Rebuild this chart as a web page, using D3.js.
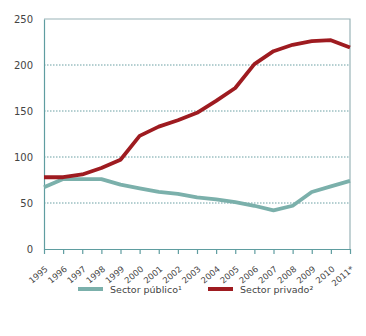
<!DOCTYPE html>
<html>
<head>
<meta charset="utf-8">
<script src="https://cdn.jsdelivr.net/npm/d3@7"></script>
<style>
  body { margin: 0; background: #fff; }
  svg { display: block; }
  svg text { font-family: "DejaVu Sans", Verdana, sans-serif; fill: #444; }
</style>
</head>
<body>
<div id="chart"></div>
<script>
// años (2011 provisional)
const years = ["1995", "1996", "1997", "1998", "1999", "2000", "2001", "2002", "2003",
  "2004", "2005", "2006", "2007", "2008", "2009", "2010", "2011*"];
const publico = [67, 76, 76, 76, 70, 66, 62, 60, 56, 54, 51, 47, 42, 47, 62, 68, 74];
const privado = [78, 78, 81, 88, 97, 123, 133, 140, 148, 161, 175, 201, 215, 222, 226, 227, 219];
const yTicks = [0, 50, 100, 150, 200, 250];
const seriesNames = ["Sector público¹", "Sector privado²"];

const colorPub = "#7bb0ab", colorPriv = "#9e1b20";

const width = 366, height = 336;
const margin = { top: 19, right: 16, bottom: 87, left: 44 };

const svg = d3.select("#chart").append("svg")
  .attr("width", width)
  .attr("height", height);

const x = d3.scalePoint()
  .domain(years)
  .range([margin.left, width - margin.right]);

const y = d3.scaleLinear()
  .domain([0, 250])
  .range([height - margin.bottom, margin.top]);

// líneas de cuadrícula punteadas
svg.append("g")
  .selectAll("line")
  .data(yTicks.filter(d => d > 0 && d < 250))
  .join("line")
  .attr("x1", margin.left)
  .attr("x2", width - margin.right)
  .attr("y1", d => y(d))
  .attr("y2", d => y(d))
  .attr("stroke", "#6a9fa3")
  .attr("stroke-width", 1)
  .attr("stroke-dasharray", "1.5,1.5");

// borde superior y derecho
svg.append("path")
  .attr("d", `M${margin.left},${y(250)}H${width - margin.right}V${y(0)}`)
  .attr("fill", "none")
  .attr("stroke", "#9ab4b8")
  .attr("stroke-width", 1.2);

// eje y
const yAxis = svg.append("g")
  .attr("transform", `translate(${margin.left},0)`)
  .call(d3.axisLeft(y).tickValues(yTicks).tickSize(0).tickPadding(11));
yAxis.select(".domain").attr("stroke", "#5f9da0").attr("stroke-width", 1.2);
yAxis.selectAll("text").attr("font-size", 10);

// eje x
const xAxis = svg.append("g")
  .attr("transform", `translate(0,${y(0)})`)
  .call(d3.axisBottom(x).tickSize(5).tickSizeOuter(0));
xAxis.select(".domain").attr("stroke", "#5f9da0").attr("stroke-width", 1.2);
xAxis.selectAll(".tick line").attr("stroke", "#5f9da0").attr("stroke-width", 1.2);
xAxis.selectAll("text")
  .attr("font-size", 8.5)
  .attr("text-anchor", "end")
  .attr("x", 0)
  .attr("y", 0)
  .attr("dy", 0)
  .attr("transform", "translate(4,21) rotate(-40)");

const line = d3.line()
  .x((d, i) => x(years[i]))
  .y(d => y(d));

svg.append("path")
  .datum(publico)
  .attr("d", line)
  .attr("fill", "none")
  .attr("stroke", colorPub)
  .attr("stroke-width", 3.8)
  .attr("stroke-linejoin", "round");

svg.append("path")
  .datum(privado)
  .attr("d", line)
  .attr("fill", "none")
  .attr("stroke", colorPriv)
  .attr("stroke-width", 3.8)
  .attr("stroke-linejoin", "round");

// leyenda
const legend = svg.append("g").attr("transform", "translate(0,289)");
const items = [
  { name: seriesNames[0], color: colorPub, x0: 78 },
  { name: seriesNames[1], color: colorPriv, x0: 208 }
];
items.forEach(it => {
  legend.append("line")
    .attr("x1", it.x0).attr("x2", it.x0 + 25)
    .attr("y1", 0).attr("y2", 0)
    .attr("stroke", it.color)
    .attr("stroke-width", 4);
  legend.append("text")
    .attr("x", it.x0 + 32)
    .attr("y", 3.5)
    .attr("font-size", 9.5)
    .text(it.name);
});
</script>
</body>
</html>
